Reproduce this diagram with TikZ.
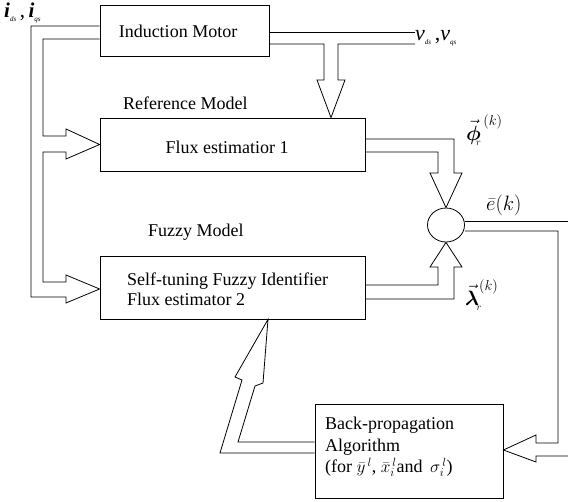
\documentclass[tikz,border=0pt]{standalone}
\usepackage{amsmath}
\usepackage{fontspec}
\setmainfont{Liberation Serif}
\usetikzlibrary{positioning, calc, shapes.geometric}
\newcommand{\lowidx}[1]{\raisebox{-0.35ex}{\fontsize{7}{8}\selectfont\itshape #1}}

\begin{document}
\begin{tikzpicture}[
                x = 1pt, y = -1pt,
                font = \fontsize{18}{20}\selectfont,
                block/.style = {draw, line width=0.8pt, inner sep=0pt},
                wire/.style = {line width=0.8pt, line join=miter},
                lbl/.style = {inner sep=0pt, anchor=west}
              ]
              \useasboundingbox (0,0) rectangle (568,502);
              % Blocks
              \node[block, minimum width=169pt, minimum height=51pt] (motor) at (184.5,30.5) {};
              \node[block, minimum width=265pt, minimum height=53pt] (refmodel) at (232.5,144.5) {};
              \node[block, minimum width=265pt, minimum height=63pt] (fuzzy) at (232.5,287.5) {};
              \node[block, minimum width=188pt, minimum height=94pt] (backprop) at (409,451) {};
              \node[draw, ellipse, line width=0.8pt, inner sep=0pt,
                    minimum width=37pt, minimum height=34pt] (sum) at (446,225) {};
              % Texts
              \node[inner sep=0pt] (motortext) at (178,31) {Induction Motor};
              \node[inner sep=0pt] (reftext) at (227,147) {Flux estimatior 1};
              \node[lbl] (reftitle) at (123,103) {Reference Model};
              \node[lbl] (fuzzytitle) at (148,232) {Fuzzy Model};
              \node[lbl, align=left, font=\fontsize{18}{20}\selectfont] (fuzzytext) at (127,289)
                {Self-tuning Fuzzy Identifier\\Flux estimator 2};
              \node[lbl, align=left, font=\fontsize{18}{21.5}\selectfont] (bptext) at (325,447)
                {Back-propagation\\Algorithm\\(for $\bar{y}^{\,l}$, $\bar{x}_i^{\,l}$and\, $\sigma_i^{\,l}$)};
              % Free ends
              \coordinate (vout) at (415,38);
              \coordinate (eout) at (568,221);
              \coordinate (ein) at (568,456);
              % Input currents to both models
              \draw[wire] (motor.west |- 0,39) -- (43,39) -- (43,136) -- (66,136) -- (66,129)
                -- (refmodel.west) -- (66,159) -- (66,152) -- (43,152) -- (43,282) -- (66,282)
                -- (66,275) -- (fuzzy.west |- 0,289) -- (66,303) -- (66,297) -- (31,297)
                -- (31,26) -- (motor.west |- 0,26);
              % Voltages to reference model
              \draw[wire] (motor.east |- 0,32) -- (vout |- 0,32);
              \draw[wire] (motor.east |- 0,44) -- (324,44) -- (324,80) -- (317,80)
                -- (refmodel.north -| 331,0) -- (345,80) -- (338,80) -- (338,44) -- (vout |- 0,44);
              % Estimated fluxes to comparator
              \draw[wire] (refmodel.east |- 0,139) -- (454,139) -- (454,173) -- (462,173)
                -- (sum.north) -- (430,173) -- (438,173) -- (438,152) -- (refmodel.east |- 0,152);
              \draw[wire] (fuzzy.east |- 0,285) -- (438,285) -- (438,267) -- (430,267)
                -- (sum.south) -- (462,267) -- (454,267) -- (454,299) -- (fuzzy.east |- 0,299);
              % Error to back-propagation
              \draw[wire] (sum.east |- 0,221) -- (eout);
              \draw[wire] (sum.east |- 0,231) -- (558,231) -- (558,443) -- (536,443) -- (536,435)
                -- (backprop.east |- 0,450) -- (536,462) -- (536,456) -- (ein);
              % Tuning of fuzzy identifier
              \draw[wire] (backprop.west |- 0,442) -- (238,442) -- (255,386) -- (263,383)
                -- (fuzzy.south -| 268,0) -- (235,377) -- (242,380) -- (220,453)
                -- (backprop.west |- 0,453);
              % Signal labels
              \node[lbl, font=\fontsize{21}{22}\selectfont] (ilabel) at (4,13)
                {\textbf{\textit{i}}\lowidx{ds}\,,\,\textbf{\textit{i}}\lowidx{qs}};
              \node[lbl, font=\fontsize{22}{22}\selectfont] (vlabel) at (vout)
                {\textit{v}\lowidx{ds}\,,\textit{v}\lowidx{qs}};
              \node[lbl, font=\fontsize{20}{22}\selectfont] (philabel) at (466,130)
                {$\vec{\boldsymbol{\phi}}_{\!\!\scriptscriptstyle r}^{\,(k)}$};
              \node[lbl, font=\fontsize{20}{22}\selectfont] (elabel) at (486,205) {$\bar{e}(k)$};
              \node[lbl, font=\fontsize{20}{22}\selectfont] (lambdalabel) at (465,295)
                {$\vec{\boldsymbol{\lambda}}_{\!\scriptscriptstyle r}^{(k)}$};
            \end{tikzpicture}
\end{document}
